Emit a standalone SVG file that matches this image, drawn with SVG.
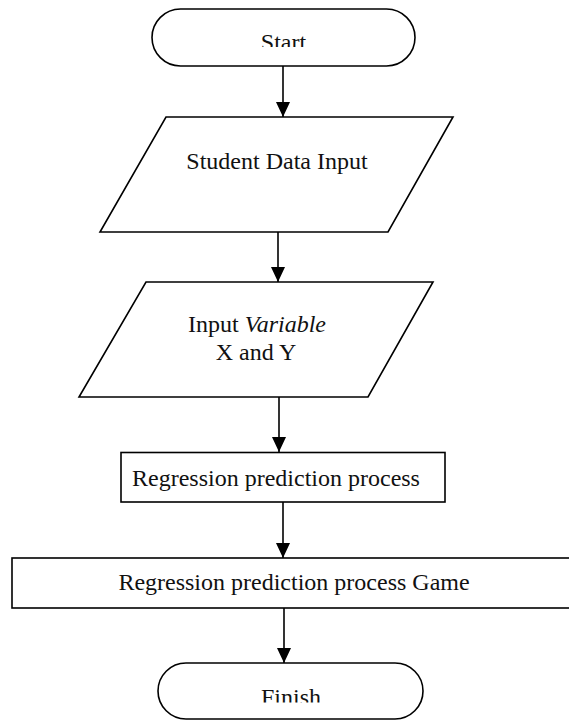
<svg xmlns="http://www.w3.org/2000/svg" width="569" height="720" viewBox="0 0 569 720">
  <style>
    .shape { fill: #ffffff; stroke: #000000; stroke-width: 1.6; }
    .label { font-family: "Liberation Serif", "Times New Roman", serif; font-size: 24px; fill: #111111; text-anchor: middle; }
    .edge { fill: none; stroke: #000000; stroke-width: 1.6; marker-end: url(#arrow); }
  </style>
  <defs>
    <marker id="arrow" markerUnits="userSpaceOnUse" markerWidth="16" markerHeight="15" refX="15" refY="7" orient="auto">
      <path d="M0,0 L15,7 L0,14 Z" fill="#000000"/>
    </marker>
    <!-- terminator labels are trimmed just above the baseline -->
    <clipPath id="clip-start"><rect x="150" y="9" width="270" height="38"/></clipPath>
    <clipPath id="clip-finish"><rect x="150" y="663" width="280" height="39.5"/></clipPath>
  </defs>

  <g id="connectors">
    <line class="edge" x1="283" y1="66" x2="283" y2="117"/>
    <line class="edge" x1="278" y1="232" x2="278" y2="282"/>
    <line class="edge" x1="279" y1="397" x2="279" y2="452"/>
    <line class="edge" x1="283" y1="502" x2="283" y2="558"/>
    <line class="edge" x1="284" y1="608" x2="284" y2="663"/>
  </g>

  <g id="start">
    <rect class="shape" x="152" y="9" width="263" height="57" rx="28.5" ry="28.5"/>
    <text class="label" x="283.5" y="49.5" clip-path="url(#clip-start)">Start</text>
  </g>

  <g id="student-data-input">
    <polygon class="shape" points="166,117 453,117 388,232 100,232"/>
    <text class="label" x="277" y="168.5">Student Data Input</text>
  </g>

  <g id="input-variable">
    <polygon class="shape" points="146,282 433,282 368,397 79,397"/>
    <text class="label" x="257" y="331.5">Input <tspan font-style="italic">Variable</tspan></text>
    <text class="label" x="256" y="360">X and Y</text>
  </g>

  <g id="regression-process">
    <rect class="shape" x="121" y="452.5" width="324" height="49.5"/>
    <text class="label" x="276" y="486">Regression prediction process</text>
  </g>

  <g id="regression-game">
    <rect class="shape" x="12" y="558" width="570" height="50"/>
    <text class="label" x="294" y="590">Regression prediction process Game</text>
  </g>

  <g id="finish">
    <rect class="shape" x="158" y="663" width="265" height="56" rx="28" ry="28"/>
    <text class="label" x="291" y="704.5" clip-path="url(#clip-finish)">Finish</text>
  </g>
</svg>
